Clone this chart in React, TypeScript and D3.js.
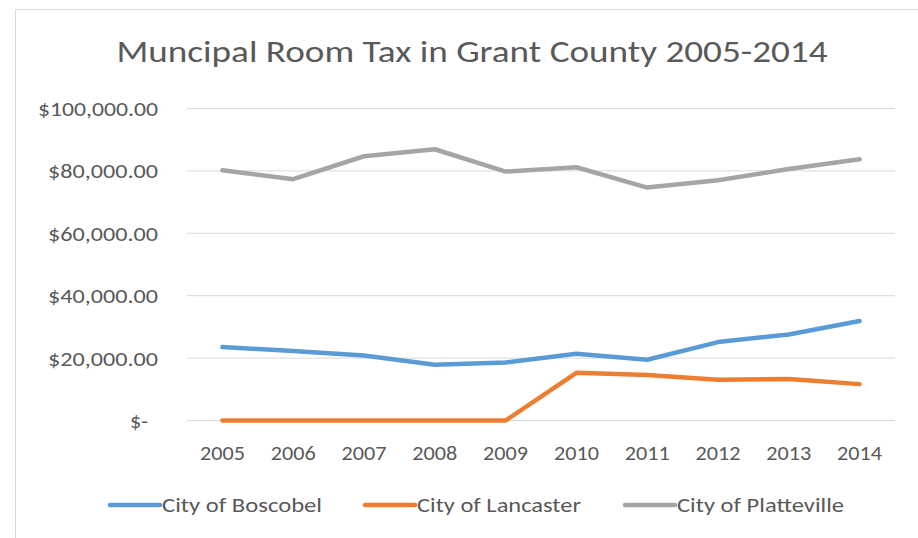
import { useEffect, useRef } from 'react';
import { select, scaleLinear, scaleBand, line } from 'd3';

const years = ['2005', '2006', '2007', '2008', '2009', '2010', '2011', '2012', '2013', '2014'];
const boscobel = [23530, 22250, 20850, 17860, 18610, 21390, 19460, 25130, 27590, 31870];
const lancaster = [0, 0, 0, 0, 0, 15300, 14550, 13050, 13270, 11660];
const platteville = [80200, 77330, 84700, 86940, 79790, 81170, 74660, 77010, 80600, 83740];
const yTicks = [0, 20000, 40000, 60000, 80000, 100000];
const seriesNames = ['City of Boscobel', 'City of Lancaster', 'City of Platteville'];
const colors = ['#5b9bd5', '#ed7d31', '#a5a5a5'];

const FONT = "Carlito, Calibri, 'Open Sans', sans-serif";
const TEXT = '#595959';

const fmt = (v: number) =>
  v === 0 ? '$-' : '$' + v.toLocaleString('en-US', { minimumFractionDigits: 2, maximumFractionDigits: 2 });

const render = (node: SVGSVGElement) => {
  const svg = select(node);
  svg.selectAll('*').remove();

  // chart frame
  svg.append('rect')
    .attr('x', 15.5).attr('y', 9.5).attr('width', 1000).attr('height', 600)
    .attr('fill', 'white').attr('stroke', '#d9d9d9');

  svg.append('text')
    .attr('x', 472).attr('y', 62)
    .attr('text-anchor', 'middle')
    .attr('font-family', FONT).attr('font-size', 31).attr('font-weight', 300)
    .attr('fill', TEXT)
    .attr('textLength', 711).attr('lengthAdjust', 'spacingAndGlyphs')
    .text('Muncipal Room Tax in Grant County 2005-2014');

  const x = scaleBand().domain(years).range([187, 895]);
  const y = scaleLinear().domain([0, 100000]).range([420.5, 108.5]);
  const cx = (d: string) => (x(d) as number) + x.bandwidth() / 2;

  // gridlines
  svg.append('g').selectAll('line').data(yTicks).enter().append('line')
    .attr('x1', 187).attr('x2', 895)
    .attr('y1', (d) => y(d)).attr('y2', (d) => y(d))
    .attr('stroke', '#d9d9d9').attr('stroke-width', 1);

  // y labels
  svg.append('g').selectAll('text').data(yTicks).enter().append('text')
    .attr('x', (d) => (d === 0 ? 148 : 158))
    .attr('y', (d) => y(d) + 7.5)
    .attr('text-anchor', 'end')
    .attr('font-family', FONT).attr('font-size', 21).attr('fill', TEXT)
    .attr('textLength', (d) => (d === 0 ? 18 : d === 100000 ? 120 : 110))
    .attr('lengthAdjust', 'spacingAndGlyphs')
    .text(fmt);

  // x labels
  svg.append('g').selectAll('text').data(years).enter().append('text')
    .attr('x', (d) => cx(d)).attr('y', 460)
    .attr('text-anchor', 'middle')
    .attr('font-family', FONT).attr('font-size', 21).attr('fill', TEXT)
    .attr('textLength', 45).attr('lengthAdjust', 'spacingAndGlyphs')
    .text((d) => d);

  const all = [boscobel, lancaster, platteville];
  const gen = line<number>()
    .x((_, i) => cx(years[i]))
    .y((d) => y(d));

  svg.append('g').selectAll('path').data(all).enter().append('path')
    .attr('d', (d) => gen(d))
    .attr('fill', 'none')
    .attr('stroke', (_, i) => colors[i])
    .attr('stroke-width', 4.5)
    .attr('stroke-linejoin', 'round')
    .attr('stroke-linecap', 'round');

  // legend
  const legendX = [110, 365, 625];
  const legendW = [160, 164, 167];
  const lg = svg.append('g').selectAll('g').data(seriesNames).enter().append('g')
    .attr('transform', (_, i) => `translate(${legendX[i]},505)`);
  lg.append('line')
    .attr('x1', 0).attr('x2', 50).attr('y1', 0).attr('y2', 0)
    .attr('stroke', (_, i) => colors[i]).attr('stroke-width', 4.5)
    .attr('stroke-linecap', 'round');
  lg.append('text')
    .attr('x', 52).attr('y', 7)
    .attr('font-family', FONT).attr('font-size', 21).attr('fill', TEXT)
    .attr('textLength', (_, i) => legendW[i]).attr('lengthAdjust', 'spacingAndGlyphs')
    .text((d) => d);
};

export default function App() {
  const ref = useRef<SVGSVGElement>(null);
  useEffect(() => {
    if (ref.current) render(ref.current);
  }, []);
  return (
    <svg
      ref={ref}
      width={918}
      height={538}
      style={{ position: 'absolute', left: 0, top: 0, display: 'block', background: 'white' }}
    />
  );
}
